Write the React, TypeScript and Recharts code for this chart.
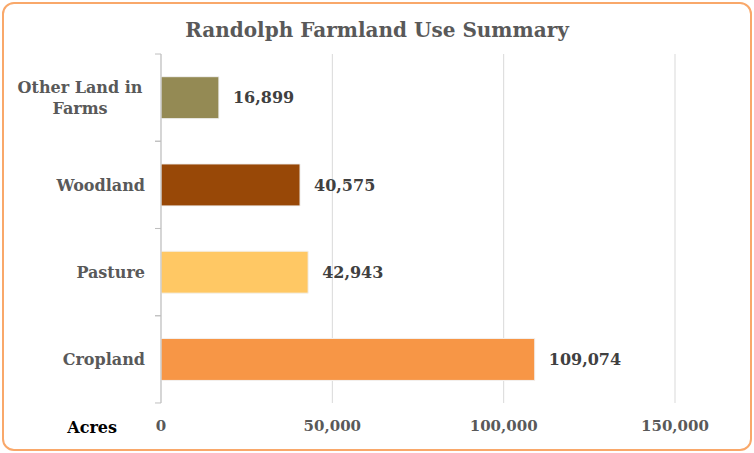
import React from 'react';
import { BarChart, Bar, XAxis, YAxis, CartesianGrid, Cell, LabelList } from 'recharts';

const categories = ['Other Land in Farms', 'Woodland', 'Pasture', 'Cropland'];
const acres = [16899, 40575, 42943, 109074];
const barColors = ['#948A54', '#984807', '#FFC864', '#F79646'];
const xTicks = [0, 50000, 100000, 150000];

const data = categories.map((name, i) => ({ name, acres: acres[i] }));

const FONT = '"DejaVu Serif", Georgia, serif';

const fmt = (v: number) => v.toLocaleString('en-US');

const CategoryTick = (props: any) => {
  const { x, y, payload } = props;
  const label: string = payload.value;
  const lines = label === 'Other Land in Farms' ? ['Other Land in', 'Farms'] : [label];
  const half = 43.6;
  return (
    <g>
      <line x1={x + 2} x2={x + 8} y1={y - half} y2={y - half} stroke="#bfbfbf" />
      <line x1={x + 2} x2={x + 8} y1={y + half} y2={y + half} stroke="#bfbfbf" />
      {lines.length === 1 ? (
        <text x={x - 8} y={y} dy={6} textAnchor="end" fill="#595959" fontFamily={FONT} fontWeight="bold" fontSize={16}>
          {label}
        </text>
      ) : (
        lines.map((ln, i) => (
          <text key={ln} x={x - 73} y={y + (i - 0.5) * 21} dy={6} textAnchor="middle" fill="#595959" fontFamily={FONT} fontWeight="bold" fontSize={16}>
            {ln}
          </text>
        ))
      )}
    </g>
  );
};

export default function App() {
  return (
    <div style={{ position: 'absolute', left: 0, top: 0, width: 754, height: 453, background: '#fff' }}>
      <BarChart
        width={754}
        height={453}
        layout="vertical"
        data={data}
        margin={{ top: 54, right: 79, left: 0, bottom: 0 }}
        barCategoryGap="26%"
      >
        <CartesianGrid horizontal={false} stroke="#d9d9d9" />
        <XAxis
          type="number"
          domain={[0, 150000]}
          ticks={xTicks}
          tickFormatter={fmt}
          axisLine={false}
          tickLine={false}
          tickMargin={11}
          height={50}
          tick={{ fill: '#595959', fontFamily: FONT, fontWeight: 'bold', fontSize: 15 }}
          label={{ value: 'Acres', position: 'left', offset: 44, dy: -1, fill: '#000', fontFamily: FONT, fontWeight: 'bold', fontSize: 16 }}
        />
        <YAxis
          type="category"
          dataKey="name"
          width={161}
          axisLine={{ stroke: '#bfbfbf' }}
          tickLine={false}
          tick={<CategoryTick />}
        />
        <Bar dataKey="acres" isAnimationActive={false} stroke="#f2f2f2" strokeWidth={1}>
          {data.map((d, i) => (
            <Cell key={d.name} fill={barColors[i]} />
          ))}
          <LabelList
            dataKey="acres"
            position="right"
            offset={14}
            formatter={(v: any) => fmt(Number(v))}
            fill="#404040"
            fontFamily={FONT}
            fontWeight="bold"
            fontSize={16}
          />
        </Bar>
      </BarChart>
      <div
        style={{
          position: 'absolute',
          left: 0,
          top: 18,
          width: 754,
          textAlign: 'center',
          fontFamily: FONT,
          fontWeight: 'bold',
          fontSize: 20,
          color: '#595959',
        }}
      >
        Randolph Farmland Use Summary
      </div>
      <div
        style={{
          position: 'absolute',
          left: 2,
          top: 2,
          width: 750,
          height: 449,
          boxSizing: 'border-box',
          border: '2px solid #F9A86A',
          borderRadius: 12,
          pointerEvents: 'none',
        }}
      />
    </div>
  );
}
